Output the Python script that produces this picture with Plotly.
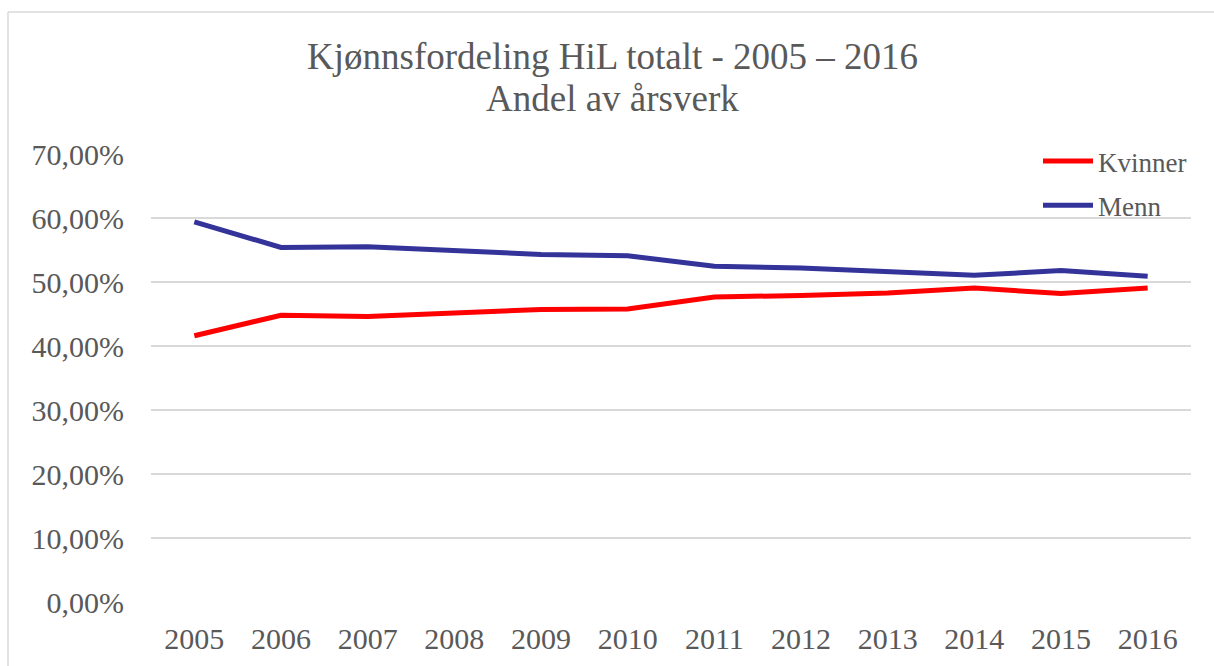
import plotly.graph_objects as go

years = ["2005", "2006", "2007", "2008", "2009", "2010",
         "2011", "2012", "2013", "2014", "2015", "2016"]
kvinner = [0.416, 0.448, 0.446, 0.452, 0.457, 0.458,
           0.4766, 0.479, 0.483, 0.4906, 0.482, 0.4906]
menn = [0.594, 0.554, 0.555, 0.549, 0.543, 0.541,
        0.5245, 0.522, 0.517, 0.5104, 0.518, 0.509]
yticks = [0, 0.1, 0.2, 0.3, 0.4, 0.5, 0.6, 0.7]

W, H = 1214, 666
L, R, T, B = 151, 23, 154, 64
pw, ph = W - L - R, H - T - B

def px_x(x):
    return (x - L) / pw

def px_y(y):
    return (H - B - y) / ph

FONT = "Liberation Serif, Times New Roman, serif"
GREY = "#595959"
BORDER = "#D9D9D9"

fig = go.Figure()
fig.add_trace(go.Scatter(x=years, y=kvinner, name="Kvinner", mode="lines",
                         line=dict(color="#FF0000", width=5), legendgroup="k"))
fig.add_trace(go.Scatter(x=years, y=menn, name="Menn", mode="lines",
                         line=dict(color="#333399", width=5), legendgroup="m"))

fig.update_layout(
    width=W, height=H,
    margin=dict(l=L, r=R, t=T, b=B),
    paper_bgcolor="white", plot_bgcolor="white",
    separators=", ",
    font=dict(family=FONT, color=GREY),
    showlegend=True,
    legend=dict(x=px_x(1038), y=px_y(137), xanchor="left", yanchor="top",
                font=dict(size=27, color=GREY, family=FONT),
                bgcolor="rgba(0,0,0,0)", tracegroupgap=6, itemwidth=50),
    xaxis=dict(type="category", range=[-0.5, 11.5], showgrid=False,
               zeroline=False, showline=False,
               ticks="", tickfont=dict(size=30, color=GREY, family=FONT),
               ticklabelstandoff=16),
    yaxis=dict(range=[0, 0.7], tickvals=yticks, tickformat=".2%",
               showgrid=True, gridcolor="#D9D9D9", gridwidth=1.5,
               zeroline=False, showline=False, ticks="",
               tickfont=dict(size=30, color=GREY, family=FONT),
               ticklabelstandoff=26),
    annotations=[
        dict(text="Kjønnsfordeling HiL totalt - 2005 – 2016", xref="paper", yref="paper",
             x=px_x(612), y=px_y(57), xanchor="center", yanchor="middle",
             showarrow=False, font=dict(size=37, color=GREY, family=FONT)),
        dict(text="Andel av årsverk", xref="paper", yref="paper",
             x=px_x(612), y=px_y(98), xanchor="center", yanchor="middle",
             showarrow=False, font=dict(size=37, color=GREY, family=FONT)),
    ],
    shapes=[
        dict(type="line", xref="paper", yref="paper",
             x0=px_x(8), x1=px_x(1220), y0=px_y(12), y1=px_y(12),
             line=dict(color=BORDER, width=1.5), layer="below"),
        dict(type="line", xref="paper", yref="paper",
             x0=px_x(8), x1=px_x(8), y0=px_y(12), y1=px_y(700),
             line=dict(color=BORDER, width=1.5), layer="below"),
    ],
)

fig.write_html("out.html", config={"displayModeBar": False},
               post_script="document.body.style.margin='0';document.body.style.overflow='hidden';")
